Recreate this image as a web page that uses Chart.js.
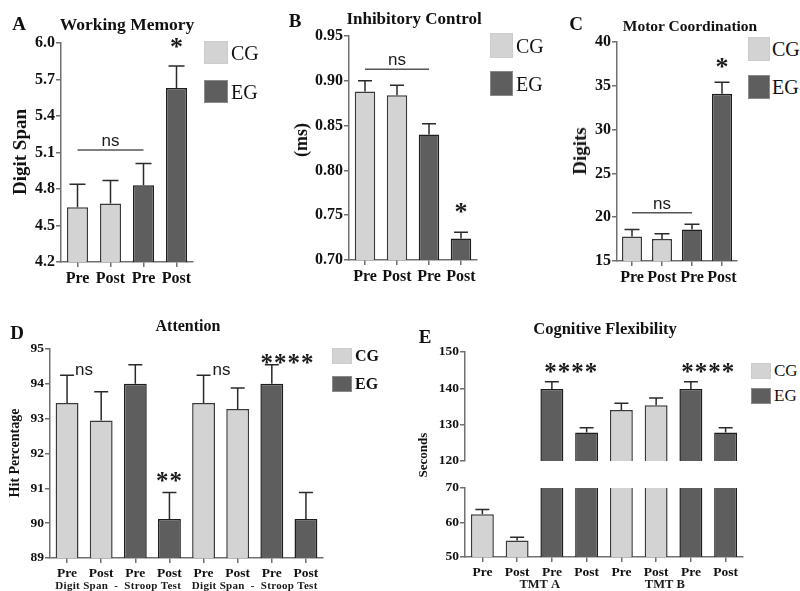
<!DOCTYPE html>
<html>
<head>
<meta charset="utf-8">
<script src="https://cdn.jsdelivr.net/npm/chart.js@4"></script>
<style>
  body { margin: 0; background: #fff; }
  #page { position: relative; width: 800px; height: 591px; overflow: hidden; font-family: "Liberation Serif", serif; color: #111; }
  canvas { position: absolute; }
  .t { position: absolute; white-space: nowrap; line-height: 1; transform: translate(-50%, -50%); }
  .rot { transform: translate(-50%, -50%) rotate(-90deg); }
  .box { position: absolute; box-sizing: border-box; }
  .lg { position: absolute; white-space: nowrap; line-height: 1; transform: translateY(-50%); }
</style>
</head>
<body>
<div id="page"></div>
<script>
// bar data (means and upper error)
const prePost = ['Pre', 'Post', 'Pre', 'Post'];
const groups4 = ['CG', 'CG', 'EG', 'EG'];

const wmMean = [4.65, 4.68, 4.83, 5.63];
const wmErr = [0.19, 0.19, 0.18, 0.18];
const wmTicks = [4.2, 4.5, 4.8, 5.1, 5.4, 5.7, 6.0];

const icMean = [0.888, 0.884, 0.840, 0.724];
const icErr = [0.012, 0.011, 0.012, 0.007];
const icTicks = [0.70, 0.75, 0.80, 0.85, 0.90, 0.95];

const mcMean = [17.8, 17.5, 18.6, 34.1];
const mcErr = [0.8, 0.6, 0.6, 1.3];
const mcTicks = [15, 20, 25, 30, 35, 40];

const labels8 = [...prePost, ...prePost];
const groups8 = ['CG', 'CG', 'EG', 'EG', 'CG', 'CG', 'EG', 'EG'];

const attMean = [93.45, 92.95, 94.0, 90.12, 93.45, 93.28, 94.0, 90.12];
const attErr = [0.8, 0.82, 0.55, 0.76, 0.8, 0.6, 0.55, 0.76];
const attTicks = [89, 90, 91, 92, 93, 94, 95];
const attTests = ['Digit Span  -  Stroop Test', 'Digit Span  -  Stroop Test'];

const cfMean = [62.4, 54.8, 139.8, 127.8, 134.0, 135.3, 139.8, 127.8];
const cfErr = [1.4, 0.9, 2.0, 1.3, 1.9, 2.0, 2.0, 1.3];
const cfTicksHigh = [120, 130, 140, 150];
const cfTicksLow = [50, 60, 70];
const cfTests = ['TMT A', 'TMT B'];

const fill = { CG: '#d3d3d3', EG: '#5e5e5e' };
const edge = { CG: '#3a3a3a', EG: '#1e1e1e' };
const axisCol = '#707070';
const page = document.getElementById('page');

// error bars, ns lines, stars and test names under the axis
function extras(o) {
  return {
    id: 'extras',
    afterDatasetsDraw(chart) {
      const { ctx, chartArea: a, scales: { x, y } } = chart;
      const bars = chart.getDatasetMeta(0).data;
      ctx.save();
      ctx.beginPath();
      ctx.rect(a.left, a.top - 1, a.right - a.left, a.bottom - a.top + 1);
      ctx.clip();
      ctx.strokeStyle = '#2a2a2a';
      ctx.lineWidth = 1.5;
      o.mean.forEach((m, i) => {
        const cx = bars[i].x;
        const y0 = y.getPixelForValue(m), y1 = y.getPixelForValue(m + o.err[i]);
        ctx.beginPath();
        ctx.moveTo(cx, y0); ctx.lineTo(cx, y1);
        ctx.moveTo(cx - o.cap / 2, y1); ctx.lineTo(cx + o.cap / 2, y1);
        ctx.stroke();
      });
      ctx.restore();

      ctx.save();
      ctx.fillStyle = '#1a1a1a';
      if (o.ns) {
        const yl = y.getPixelForValue(o.ns.value);
        const x0 = x.getPixelForValue(o.ns.from), x1 = x.getPixelForValue(o.ns.to);
        ctx.strokeStyle = '#555';
        ctx.lineWidth = 1.5;
        ctx.beginPath(); ctx.moveTo(x0, yl); ctx.lineTo(x1, yl); ctx.stroke();
        ctx.font = '17px "Liberation Sans"';
        ctx.textAlign = 'center';
        ctx.textBaseline = 'alphabetic';
        ctx.fillText('ns', (x0 + x1) / 2, yl - 4);
      }
      (o.marks || []).forEach(mk => {
        ctx.font = mk.font;
        ctx.letterSpacing = (mk.spacing || 0) + 'px';
        ctx.textAlign = mk.align || 'center';
        ctx.textBaseline = 'alphabetic';
        const px = x.getPixelForValue(mk.at) + (mk.dx || 0);
        const py = y.getPixelForValue(mk.value) + (mk.shift || 0);
        ctx.fillText(mk.text, px, py);
      });
      ctx.letterSpacing = '0px';
      (o.tests || []).forEach(g => {
        ctx.font = g.font;
        ctx.letterSpacing = (g.spacing || 0) + 'px';
        ctx.textAlign = 'center';
        ctx.textBaseline = 'middle';
        ctx.fillText(g.text, x.getPixelForValue(g.at), g.y - o.box[1]);
      });
      ctx.restore();
    }
  };
}

function panel(o) {
  const [bl, bt, bw, bh] = o.box;
  const [pl, pt, pr, pb] = o.plot;
  const c = document.createElement('canvas');
  c.width = bw; c.height = bh;
  c.style.left = bl + 'px'; c.style.top = bt + 'px';
  page.appendChild(c);
  const tickFont = { family: 'Liberation Serif', weight: 'bold', size: o.fs };
  return new Chart(c, {
    type: 'bar',
    data: {
      labels: o.labels,
      datasets: [{
        data: o.mean,
        backgroundColor: o.groups.map(g => fill[g]),
        borderColor: o.groups.map(g => edge[g]),
        borderWidth: 1.5,
        barPercentage: o.bar,
        categoryPercentage: 1,
        clip: 0
      }]
    },
    options: {
      responsive: false,
      animation: false,
      events: [],
      layout: { padding: { left: 0, top: pt - bt, right: bl + bw - pr, bottom: o.showX ? 0 : bt + bh - pb } },
      plugins: { legend: { display: false }, title: { display: false }, tooltip: { enabled: false } },
      scales: {
        x: {
          display: o.showX,
          grid: { offset: false, drawOnChartArea: false, tickLength: 5, color: axisCol, lineWidth: 1.5 },
          border: { color: axisCol, width: 1.5 },
          ticks: { font: tickFont, color: '#111', padding: 2, maxRotation: 0, autoSkip: false },
          afterFit: s => { s.height = bt + bh - pb; }
        },
        y: {
          min: o.ticks[0],
          max: o.ticks[o.ticks.length - 1],
          afterBuildTicks: s => { s.ticks = o.ticks.map(v => ({ value: v })); },
          grid: { drawOnChartArea: false, tickLength: 5, color: axisCol, lineWidth: 1.5 },
          border: { color: axisCol, width: 1.5 },
          ticks: { font: tickFont, color: '#111', padding: 1, callback: v => v.toFixed(o.dec) },
          afterFit: s => { s.width = pl - bl; }
        }
      }
    },
    plugins: [extras(o)]
  });
}

const star = 'bold 26px "Liberation Serif"';
const stars = 'bold 25px "Liberation Serif"';

panel({ box: [0, 0, 200, 290], plot: [61, 43, 193, 262], labels: prePost, groups: groups4,
  mean: wmMean, err: wmErr, ticks: wmTicks, dec: 1, fs: 16, bar: 0.64, cap: 16, showX: true,
  ns: { from: 0, to: 2, value: 5.12 },
  marks: [{ text: '*', at: 3, value: 6.0, font: star, shift: 12 }] });

panel({ box: [285, 0, 200, 290], plot: [349, 36, 477, 260], labels: prePost, groups: groups4,
  mean: icMean, err: icErr, ticks: icTicks, dec: 2, fs: 16, bar: 0.64, cap: 14, showX: true,
  ns: { from: 0, to: 2, value: 0.913 },
  marks: [{ text: '*', at: 3, value: 0.758, font: star, shift: 12 }] });

panel({ box: [560, 0, 185, 290], plot: [617, 42, 737, 261], labels: prePost, groups: groups4,
  mean: mcMean, err: mcErr, ticks: mcTicks, dec: 0, fs: 16, bar: 0.67, cap: 15, showX: true,
  ns: { from: 0, to: 2, value: 20.5 },
  marks: [{ text: '*', at: 3, value: 37.6, font: star, shift: 12 }] });

panel({ box: [0, 300, 330, 291], plot: [50, 349, 323, 558], labels: labels8, groups: groups8,
  mean: attMean, err: attErr, ticks: attTicks, dec: 0, fs: 13.5, bar: 0.67, cap: 14, showX: true,
  marks: [
    { text: 'ns', at: 0, value: 94.4, font: '17px "Liberation Sans"', align: 'left', dx: 8, shift: 5 },
    { text: 'ns', at: 4, value: 94.4, font: '17px "Liberation Sans"', align: 'left', dx: 9, shift: 5 },
    { text: '**', at: 3, value: 91.33, font: stars, spacing: 1, shift: 12 },
    { text: '****', at: 6.46, value: 94.72, font: stars, spacing: 1, shift: 12 }
  ],
  tests: attTests.map((t, i) => ({ text: t, at: 1.5 + 4 * i, y: 586, font: 'bold 11px "Liberation Serif"', spacing: 0.3 })) });

panel({ box: [410, 300, 340, 170], plot: [465, 352, 743, 468], labels: labels8, groups: groups8,
  mean: cfMean, err: cfErr, ticks: cfTicksHigh, dec: 0, fs: 13.5, bar: 0.66, cap: 14, showX: false,
  marks: [
    { text: '****', at: 2.56, value: 145.6, font: stars, spacing: 1, shift: 12 },
    { text: '****', at: 6.5, value: 145.6, font: stars, spacing: 1, shift: 12 }
  ] });

panel({ box: [410, 478, 340, 113], plot: [465, 488, 743, 557], labels: labels8, groups: groups8,
  mean: cfMean, err: cfErr, ticks: cfTicksLow, dec: 0, fs: 13.5, bar: 0.66, cap: 14, showX: true,
  tests: cfTests.map((t, i) => ({ text: t, at: [1.65, 5.25][i], y: 585, font: 'bold 12.5px "Liberation Serif"' })) });

// titles, panel letters and axis titles
const texts = [
  ['A', 19, 24, 'bold 19px'], ['B', 295, 21, 'bold 19px'], ['C', 576, 24, 'bold 19px'],
  ['D', 17, 333, 'bold 19px'], ['E', 425, 337, 'bold 19px'],
  ['Working Memory', 127, 24, 'bold 17.5px'], ['Inhibitory Control', 414, 19, 'bold 17px'],
  ['Motor Coordination', 690, 26, 'bold 15.5px'], ['Attention', 188, 326, 'bold 16px'],
  ['Cognitive Flexibility', 605, 329, 'bold 16.5px']
];
texts.forEach(([s, x, y, f]) => {
  const d = document.createElement('div');
  d.className = 't';
  d.textContent = s;
  d.style.cssText = `left:${x}px;top:${y}px;font:${f} "Liberation Serif",serif;`;
  page.appendChild(d);
});

const yTitles = [
  ['Digit Span', 20, 152, 'bold 19px'], ['(ms)', 301, 140, 'bold 18px'], ['Digits', 580, 151, 'bold 19px'],
  ['Hit Percentage', 15, 453, 'bold 14px'], ['Seconds', 423, 455, 'bold 13px']
];
yTitles.forEach(([s, x, y, f]) => {
  const d = document.createElement('div');
  d.className = 't rot';
  d.textContent = s;
  d.style.cssText = `left:${x}px;top:${y}px;font:${f} "Liberation Serif",serif;`;
  page.appendChild(d);
});

// legends: [left, cgTop, egTop, width, height, textLeft, font]
const legends = [
  [204, 41, 80, 24, 23, 231, '20px'],
  [490, 33, 71, 23, 25, 516, '20px'],
  [748, 37, 75, 22, 24, 772, '20px'],
  [332, 348, 376, 20, 16, 355, 'bold 16px'],
  [751, 363, 388, 20, 16, 774, '17px']
];
legends.forEach(([x, yc, ye, w, h, tx, f]) => {
  [['CG', yc], ['EG', ye]].forEach(([g, y]) => {
    const b = document.createElement('div');
    b.className = 'box';
    b.style.cssText = `left:${x}px;top:${y}px;width:${w}px;height:${h}px;background:${fill[g]};border:1px solid ${g === 'CG' ? '#cccccc' : '#8a8a8a'};`;
    page.appendChild(b);
    const t = document.createElement('div');
    t.className = 'lg';
    t.textContent = g;
    t.style.cssText = `left:${tx}px;top:${y + h / 2}px;font:${f} "Liberation Serif",serif;`;
    page.appendChild(t);
  });
});
</script>
</body>
</html>
